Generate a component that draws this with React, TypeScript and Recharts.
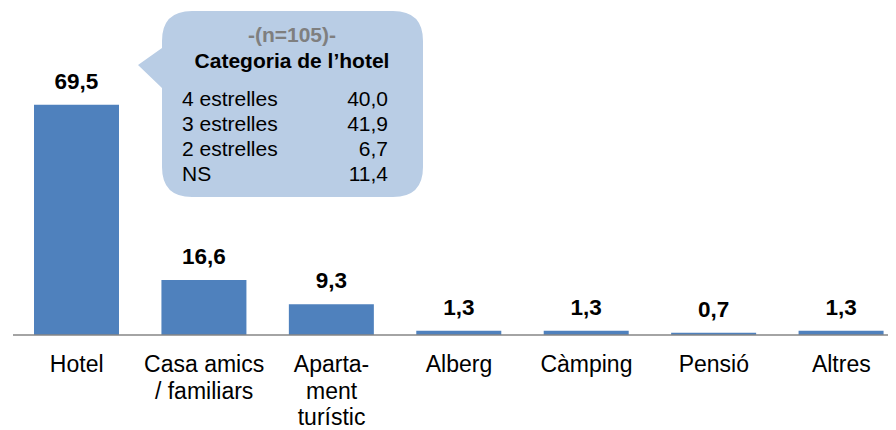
import { BarChart, Bar, XAxis, YAxis, LabelList, Customized } from 'recharts';

const categories = [
  'Hotel',
  'Casa amics\n/ familiars',
  'Aparta-\nment\nturístic',
  'Alberg',
  'Càmping',
  'Pensió',
  'Altres',
];
const percentages = [69.5, 16.6, 9.3, 1.3, 1.3, 0.7, 1.3];

// detail shown in the callout next to the hotel bar
const hotelSample = 105;
const hotelCategories = ['4 estrelles', '3 estrelles', '2 estrelles', 'NS'];
const hotelShares = [40.0, 41.9, 6.7, 11.4];

const data = categories.map((name, i) => ({ name, value: percentages[i] }));

const FONT = '"Liberation Sans", Arial, sans-serif';
const BAR_COLOR = '#4F81BD';
const BUBBLE_COLOR = '#B9CDE5';

const fmt = (v: number) => v.toFixed(1).replace('.', ',');

function CategoryTick({ x, y, payload }: any) {
  const lines = String(payload.value).split('\n');
  return (
    <text x={x} y={y} textAnchor="middle" fontFamily={FONT} fontSize={23} fill="#000">
      {lines.map((line, i) => (
        <tspan key={i} x={x} y={y + 37 + i * 26.5}>
          {line}
        </tspan>
      ))}
    </text>
  );
}

function ValueLabel({ x, y, width, value }: any) {
  return (
    <text
      x={x + width / 2}
      y={y - 16}
      textAnchor="middle"
      fontFamily={FONT}
      fontSize={22.5}
      fontWeight="bold"
      fill="#000"
    >
      {fmt(value)}
    </text>
  );
}

function HotelBubble() {
  const left = 154;
  const top = 3;
  const right = 415;
  const bottom = 189;
  const r = 30;
  const path = [
    `M ${left + r} ${top}`,
    `H ${right - r}`,
    `Q ${right} ${top} ${right} ${top + r}`,
    `V ${bottom - r}`,
    `Q ${right} ${bottom} ${right - r} ${bottom}`,
    `H ${left + r}`,
    `Q ${left} ${bottom} ${left} ${bottom - r}`,
    `V 80`,
    `L 130 57`,
    `L ${left} 40`,
    `V ${top + r}`,
    `Q ${left} ${top} ${left + r} ${top}`,
    'Z',
  ].join(' ');
  const cx = 284;
  return (
    <g fontFamily={FONT}>
      <path d={path} fill={BUBBLE_COLOR} />
      <text x={cx} y={34} textAnchor="middle" fontSize={21} fontWeight="bold" fill="#7F7F7F">
        {`-(n=${hotelSample})-`}
      </text>
      <text x={cx} y={60} textAnchor="middle" fontSize={21} fontWeight="bold" fill="#000">
        Categoria de l’hotel
      </text>
      {hotelCategories.map((c, i) => (
        <g key={c}>
          <text x={174} y={97.5 + i * 25.2} fontSize={21} fill="#000">
            {c}
          </text>
          <text x={380} y={97.5 + i * 25.2} fontSize={21} textAnchor="end" fill="#000">
            {fmt(hotelShares[i])}
          </text>
        </g>
      ))}
    </g>
  );
}

export default function App() {
  return (
    <div style={{ width: 880, height: 422, overflow: 'hidden', position: 'relative' }}>
      <BarChart
        width={897}
        height={422}
        data={data}
        margin={{ top: 62, right: 0, bottom: 0, left: 5 }}
      >
        <XAxis
          dataKey="name"
          axisLine={{ stroke: '#868686', strokeWidth: 1.5 }}
          tickLine={false}
          tickSize={0}
          tickMargin={0}
          interval={0}
          height={95}
          tick={<CategoryTick />}
        />
        <YAxis hide domain={[0, 80]} />
        <Bar dataKey="value" fill={BAR_COLOR} barSize={85} isAnimationActive={false}>
          <LabelList dataKey="value" content={<ValueLabel />} />
        </Bar>
        <Customized component={HotelBubble} />
      </BarChart>
    </div>
  );
}
